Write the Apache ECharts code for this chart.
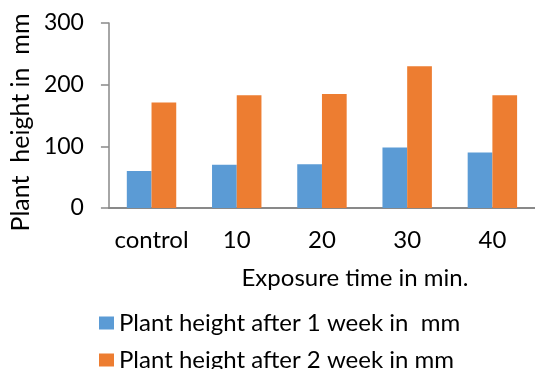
<!DOCTYPE html>
<html><head><meta charset="utf-8">
<script src="https://cdn.jsdelivr.net/npm/echarts@6/dist/echarts.min.js"></script>
<style>html,body{margin:0;padding:0;background:#fff}#c{width:535px;height:369px}</style>
</head><body><div id="c"></div>
<script>
const categories = ['control', '10', '20', '30', '40'];
const week1 = [60, 70, 71, 98, 90];
const week2 = [171, 183, 185, 230, 183];
const seriesNames = ['Plant height after 1 week in  mm', 'Plant height after 2 week in mm'];
const yTicks = [0, 100, 200, 300];

const FONT = 'Lato';
const FS = 24;
const legendBase = {
  orient: 'vertical', left: 94, itemWidth: 15, itemHeight: 13, icon: 'rect',
  textStyle: { fontFamily: FONT, fontSize: FS, color: '#000' }
};
const chart = echarts.init(document.getElementById('c'));
chart.setOption({
  animation: false,
  textStyle: { fontFamily: FONT },
  grid: { left: 105, right: 0, top: 23, bottom: 161 },
  legend: [
    Object.assign({}, legendBase, { top: 306, data: [seriesNames[0]] }),
    Object.assign({}, legendBase, { top: 343, data: [seriesNames[1]] })
  ],
  xAxis: {
    type: 'category', data: categories,
    axisLine: { lineStyle: { color: '#898989', width: 2 } },
    axisTick: { show: false },
    axisLabel: { interval: 0, fontFamily: FONT, fontSize: FS, color: '#000', margin: 20 },
    name: 'Exposure time in min.', nameLocation: 'middle', nameGap: 58,
    nameTextStyle: { fontFamily: FONT, fontSize: FS, color: '#000', padding: [0, 0, 0, 66] }
  },
  yAxis: {
    type: 'value', min: yTicks[0], max: yTicks[yTicks.length - 1], interval: 100,
    splitLine: { show: false },
    axisLine: { show: true, lineStyle: { color: '#898989', width: 1.5 } },
    axisTick: { show: true, length: 8, lineStyle: { color: '#898989', width: 1.5 } },
    axisLabel: { fontFamily: FONT, fontSize: 23, color: '#000', margin: 25 },
    name: 'Plant  height in  mm', nameLocation: 'middle', nameGap: 73,
    nameTextStyle: { fontFamily: FONT, fontSize: 25, color: '#000', padding: [0, 14, 0, 0] }
  },
  series: [
    { name: seriesNames[0], type: 'bar', data: week1, barGap: '0%', barCategoryGap: '42%',
      itemStyle: { color: '#5B9BD5' } },
    { name: seriesNames[1], type: 'bar', data: week2, barGap: '0%', barCategoryGap: '42%',
      itemStyle: { color: '#ED7D31' } }
  ]
});
</script></body></html>
